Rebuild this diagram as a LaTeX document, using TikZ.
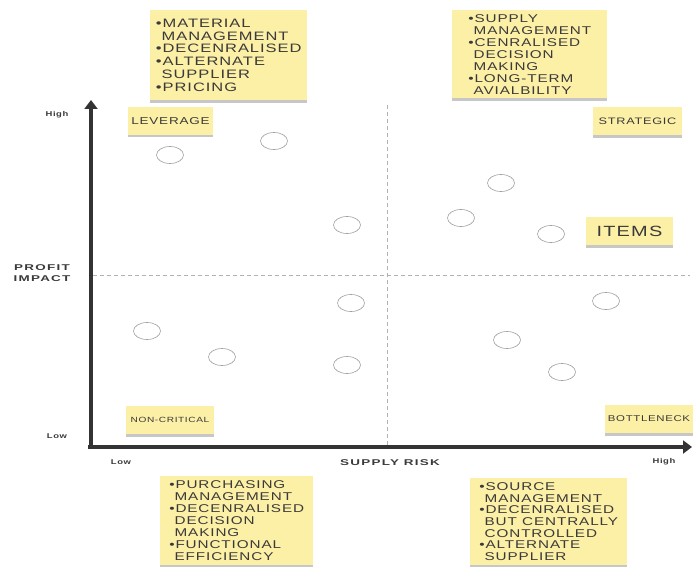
\documentclass[tikz,border=0pt]{standalone}
\usepackage{fontspec}
\setmainfont{Liberation Sans}
\newfontfamily\notefont{Liberation Sans}[FakeStretch=1.35,LetterSpace=8]
\newfontfamily\axisfont{Liberation Sans}[FakeStretch=1.6,LetterSpace=15]
\usetikzlibrary{arrows.meta,positioning,shapes.geometric,shadows}

\definecolor{notefill}{HTML}{FCEFA6}
\definecolor{inkgrey}{HTML}{3A3A3A}
\definecolor{axisgrey}{HTML}{333333}
\newcommand{\bul}{\textbullet}
\newcommand{\ind}{\hphantom{\textbullet}}
\newcommand{\fs}[2]{\fontsize{#1}{#2}\selectfont}

\begin{document}
\begin{tikzpicture}[
  x=1pt, y=-1pt,
  note/.style={fill=notefill, text=inkgrey, font=\notefont, align=left, inner sep=3pt,
    drop shadow={shadow xshift=0pt, shadow yshift=-2.5pt, opacity=.22, fill=black}},
  listnote/.style={note, anchor=north west},
  tag/.style={note, align=center, minimum height=28pt},
  item/.style={ellipse, draw=gray!75, fill=white, line width=0.6pt, minimum width=27pt, minimum height=17pt, inner sep=0pt},
  axis/.style={line width=4.5pt, draw=axisgrey, -{Triangle[width=13pt,length=9pt]}},
  split/.style={dashed, dash pattern=on 4pt off 3pt, draw=gray!60, line width=0.6pt},
  axislabel/.style={font=\axisfont\bfseries\fs{8.4}{11.5}, text=inkgrey, align=center, inner sep=0pt},
  ticklabel/.style={font=\notefont\bfseries\fs{7}{8}, text=inkgrey, inner sep=0pt}
]
\useasboundingbox (0,0) rectangle (693,567);

% axes
\coordinate (origin) at (91,447);
\coordinate (ytop) at (91,100);
\coordinate (xend) at (692,447);
\coordinate (xstart) at (88,447);
\coordinate (ybottom) at (91,449.25);
\draw[split] (387,105) -- (387,445);
\draw[split] (93,275) -- (690,275);
\draw[axis] (ybottom) -- (ytop);
\draw[axis] (xstart) -- (xend);

\node[axislabel] (profit) at (42,273) {PROFIT\\IMPACT};
\node[axislabel] (risk) at (390,463) {SUPPLY RISK};
\node[ticklabel] (yhigh) at (57,115) {High};
\node[ticklabel] (ylow) at (57,436) {Low};
\node[ticklabel] (xlow) at (121,462) {Low};
\node[ticklabel] (xhigh) at (664,462) {High};

% quadrant tags
\node[tag, minimum width=85pt, font=\notefont\fs{10}{12}] (leverage) at (170.5,121) {LEVERAGE};
\node[tag, minimum width=89pt, font=\notefont\fs{9.4}{11}] (strategic) at (637.5,121.5) {STRATEGIC};
\node[tag, minimum width=87pt, font=\notefont\fs{14.8}{16}] (items) at (629.5,231) {ITEMS};
\node[tag, minimum width=88pt, font=\notefont\fs{7.5}{9}] (noncritical) at (170,420) {NON-CRITICAL};
\node[tag, minimum width=86pt, font=\notefont\fs{8.45}{10}] (bottleneck) at (649,419) {BOTTLENECK};

% quadrant notes
\node[listnote, minimum width=157pt, minimum height=90pt, font=\notefont\fs{12.2}{12.8}] (levnote) at (150,10)
  {\bul MATERIAL\\\ind MANAGEMENT\\\bul DECENRALISED\\\bul ALTERNATE\\\ind SUPPLIER\\\bul PRICING};
\node[listnote, minimum width=155pt, minimum height=88pt, font=\notefont\fs{11.3}{12}] (stratnote) at (452,10)
  {\bul SUPPLY\\\ind MANAGEMENT\\\bul CENRALISED\\\ind DECISION\\\ind MAKING\\\bul LONG-TERM\\\ind AVIALBILITY};
\node[listnote, minimum width=153pt, minimum height=89pt, font=\notefont\fs{11.3}{12}] (ncnote) at (160,476)
  {\bul PURCHASING\\\ind MANAGEMENT\\\bul DECENRALISED\\\ind DECISION\\\ind MAKING\\\bul FUNCTIONAL\\\ind EFFICIENCY};
\node[listnote, minimum width=157pt, minimum height=87pt, font=\notefont\fs{11.3}{11.6}] (bnnote) at (470,478)
  {\bul SOURCE\\\ind MANAGEMENT\\\bul DECENRALISED\\\ind BUT CENTRALLY\\\ind CONTROLLED\\\bul ALTERNATE\\\ind SUPPLIER};

% items
\foreach \px/\py [count=\i] in {170/155, 274/141, 347/225, 351/303, 147/331, 222/357, 347/365,
    501/183, 461/218, 551/234, 606/301, 507/340, 562/372}
  \node[item] (item\i) at (\px,\py) {};
\end{tikzpicture}
\end{document}
